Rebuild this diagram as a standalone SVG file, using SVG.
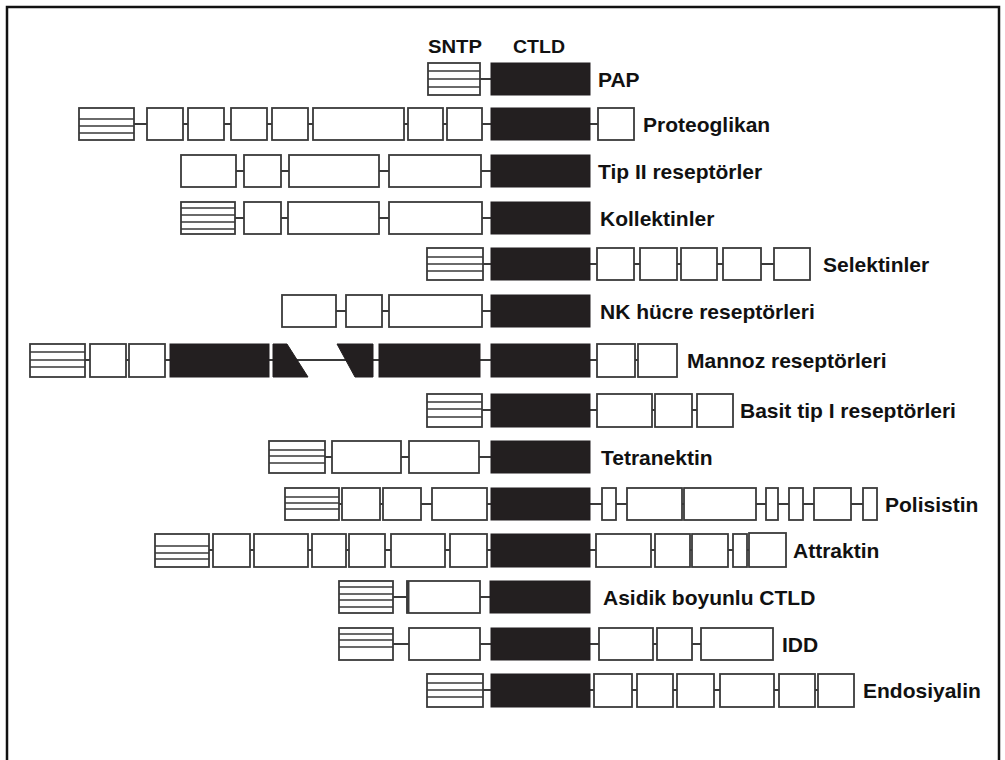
<svg xmlns="http://www.w3.org/2000/svg" width="1005" height="760" viewBox="0 0 1005 760">
<style>
.b{fill:#fff;stroke:#3a3a3a;stroke-width:1.8}
.k{fill:#231f20;stroke:#231f20;stroke-width:1}
.s{stroke:#3a3a3a;stroke-width:1.6;fill:none}
.c{stroke:#3a3a3a;stroke-width:1.8;fill:none}
.t{font-family:"Liberation Sans",Arial,sans-serif;font-weight:bold;font-size:21px;fill:#111}
.h{font-family:"Liberation Sans",Arial,sans-serif;font-weight:bold;font-size:19px;fill:#111}
</style>
<rect x="0" y="0" width="1005" height="760" fill="#fff"/>
<path d="M7 770 V7 H999 V770" fill="none" stroke="#111" stroke-width="2.5"/>
<g id="header">
<text class="h" x="428" y="53" textLength="54" lengthAdjust="spacingAndGlyphs">SNTP</text>
<text class="h" x="513" y="53" textLength="52" lengthAdjust="spacingAndGlyphs">CTLD</text>
</g>
<g id="connectors">
<line class="c" x1="454" y1="79" x2="491" y2="79"/>
<line class="c" x1="106" y1="124" x2="616" y2="124"/>
<line class="c" x1="208" y1="171" x2="491" y2="171"/>
<line class="c" x1="208" y1="218" x2="491" y2="218"/>
<line class="c" x1="455" y1="264" x2="792" y2="264"/>
<line class="c" x1="309" y1="311" x2="491" y2="311"/>
<line class="c" x1="58" y1="360" x2="657" y2="360"/>
<line class="c" x1="455" y1="410" x2="715" y2="410"/>
<line class="c" x1="297" y1="457" x2="491" y2="457"/>
<line class="c" x1="312" y1="504" x2="870" y2="504"/>
<line class="c" x1="182" y1="550" x2="768" y2="550"/>
<line class="c" x1="366" y1="597" x2="491" y2="597"/>
<line class="c" x1="366" y1="644" x2="737" y2="644"/>
<line class="c" x1="455" y1="690" x2="836" y2="690"/>
</g>
<g id="pap">
<rect class="b" x="428" y="63" width="52" height="32"/>
<path class="s" d="M428 71H480M428 79H480M428 87H480"/>
<rect class="k" x="491" y="63" width="99" height="32"/>
<text class="t" x="598" y="87">PAP</text>
</g>
<g id="proteoglikan">
<rect class="b" x="79" y="108" width="55" height="32"/>
<path class="s" d="M79 119H134M79 126H134M79 133H134"/>
<rect class="b" x="147" y="108" width="36" height="32"/>
<rect class="b" x="188" y="108" width="36" height="32"/>
<rect class="b" x="231" y="108" width="36" height="32"/>
<rect class="b" x="272" y="108" width="36" height="32"/>
<rect class="b" x="313" y="108" width="91" height="32"/>
<rect class="b" x="408" y="108" width="35" height="32"/>
<rect class="b" x="447" y="108" width="35" height="32"/>
<rect class="k" x="491" y="108" width="99" height="32"/>
<rect class="b" x="598" y="108" width="36" height="32"/>
<text class="t" x="643" y="132">Proteoglikan</text>
</g>
<g id="tip2">
<rect class="b" x="181" y="155" width="55" height="32"/>
<rect class="b" x="244" y="155" width="37" height="32"/>
<rect class="b" x="289" y="155" width="90" height="32"/>
<rect class="b" x="389" y="155" width="92" height="32"/>
<rect class="k" x="491" y="155" width="99" height="32"/>
<text class="t" x="598" y="179">Tip II reseptörler</text>
</g>
<g id="kollektinler">
<rect class="b" x="181" y="202" width="54" height="32"/>
<path class="s" d="M181 208H235M181 215H235M181 222H235M181 229H235"/>
<rect class="b" x="244" y="202" width="37" height="32"/>
<rect class="b" x="288" y="202" width="91" height="32"/>
<rect class="b" x="389" y="202" width="93" height="32"/>
<rect class="k" x="491" y="202" width="99" height="32"/>
<text class="t" x="600" y="226">Kollektinler</text>
</g>
<g id="selektinler">
<rect class="b" x="427" y="248" width="56" height="32"/>
<path class="s" d="M427 257H483M427 264H483M427 271H483"/>
<rect class="k" x="491" y="248" width="99" height="32"/>
<rect class="b" x="597" y="248" width="37" height="32"/>
<rect class="b" x="640" y="248" width="37" height="32"/>
<rect class="b" x="681" y="248" width="36" height="32"/>
<rect class="b" x="723" y="248" width="38" height="32"/>
<rect class="b" x="774" y="248" width="36" height="32"/>
<text class="t" x="823" y="272">Selektinler</text>
</g>
<g id="nk">
<rect class="b" x="282" y="295" width="54" height="32"/>
<rect class="b" x="346" y="295" width="36" height="32"/>
<rect class="b" x="389" y="295" width="93" height="32"/>
<rect class="k" x="491" y="295" width="99" height="32"/>
<text class="t" x="600" y="319">NK hücre reseptörleri</text>
</g>
<g id="mannoz">
<rect class="b" x="30" y="344" width="55" height="33"/>
<path class="s" d="M30 352H85M30 360H85M30 367H85"/>
<rect class="b" x="90" y="344" width="36" height="33"/>
<rect class="b" x="129" y="344" width="36" height="33"/>
<rect class="k" x="170" y="344" width="99" height="33"/>
<polygon class="k" points="273,344 287,344 308,377 273,377"/>
<polygon class="k" points="337,344 373,344 373,377 355,377"/>
<rect class="k" x="379" y="344" width="101" height="33"/>
<rect class="k" x="491" y="344" width="99" height="33"/>
<rect class="b" x="597" y="344" width="38" height="33"/>
<rect class="b" x="638" y="344" width="39" height="33"/>
<text class="t" x="687" y="368">Mannoz reseptörleri</text>
</g>
<g id="basit">
<rect class="b" x="427" y="394" width="55" height="33"/>
<path class="s" d="M427 402H482M427 409H482M427 417H482"/>
<rect class="k" x="491" y="394" width="99" height="33"/>
<rect class="b" x="597" y="394" width="55" height="33"/>
<rect class="b" x="655" y="394" width="37" height="33"/>
<rect class="b" x="697" y="394" width="36" height="33"/>
<text class="t" x="740" y="418">Basit tip I reseptörleri</text>
</g>
<g id="tetranektin">
<rect class="b" x="269" y="441" width="56" height="32"/>
<path class="s" d="M269 450H325M269 456H325M269 463H325"/>
<rect class="b" x="332" y="441" width="69" height="32"/>
<rect class="b" x="409" y="441" width="70" height="32"/>
<rect class="k" x="491" y="441" width="99" height="32"/>
<text class="t" x="601" y="465">Tetranektin</text>
</g>
<g id="polisistin">
<rect class="b" x="285" y="488" width="54" height="32"/>
<path class="s" d="M285 497H339M285 503H339M285 509H339"/>
<rect class="b" x="342" y="488" width="38" height="32"/>
<rect class="b" x="383" y="488" width="38" height="32"/>
<rect class="b" x="432" y="488" width="55" height="32"/>
<rect class="k" x="491" y="488" width="99" height="32"/>
<rect class="b" x="602" y="488" width="14" height="32"/>
<rect class="b" x="627" y="488" width="55" height="32"/>
<rect class="b" x="684" y="488" width="72" height="32"/>
<rect class="b" x="766" y="488" width="12" height="32"/>
<rect class="b" x="789" y="488" width="14" height="32"/>
<rect class="b" x="814" y="488" width="37" height="32"/>
<rect class="b" x="863" y="488" width="14" height="32"/>
<text class="t" x="885" y="512">Polisistin</text>
</g>
<g id="attraktin">
<rect class="b" x="155" y="534" width="54" height="33"/>
<path class="s" d="M155 546H209M155 553H209M155 559H209"/>
<rect class="b" x="213" y="534" width="37" height="33"/>
<rect class="b" x="254" y="534" width="54" height="33"/>
<rect class="b" x="312" y="534" width="34" height="33"/>
<rect class="b" x="349" y="534" width="36" height="33"/>
<rect class="b" x="391" y="534" width="54" height="33"/>
<rect class="b" x="450" y="534" width="37" height="33"/>
<rect class="k" x="491" y="534" width="99" height="33"/>
<rect class="b" x="596" y="534" width="55" height="33"/>
<rect class="b" x="655" y="534" width="35" height="33"/>
<rect class="b" x="692" y="534" width="36" height="33"/>
<rect class="b" x="733" y="534" width="14" height="33"/>
<rect class="b" x="749" y="533" width="37" height="34"/>
<text class="t" x="793" y="558">Attraktin</text>
</g>
<g id="asidik">
<rect class="b" x="339" y="581" width="54" height="32"/>
<path class="s" d="M339 587H393M339 594H393M339 600H393M339 607H393"/>
<rect class="b" x="407" y="581" width="73" height="32"/>
<line x1="408" y1="581" x2="408" y2="613" stroke="#3a3a3a" stroke-width="3"/>
<rect class="k" x="490" y="581" width="100" height="32"/>
<text class="t" x="603" y="605">Asidik boyunlu CTLD</text>
</g>
<g id="idd">
<rect class="b" x="339" y="628" width="54" height="32"/>
<path class="s" d="M339 634H393M339 640H393M339 647H393"/>
<rect class="b" x="409" y="628" width="71" height="32"/>
<rect class="k" x="491" y="628" width="99" height="32"/>
<rect class="b" x="599" y="628" width="54" height="32"/>
<rect class="b" x="657" y="628" width="35" height="32"/>
<rect class="b" x="701" y="628" width="72" height="32"/>
<text class="t" x="782" y="652">IDD</text>
</g>
<g id="endosiyalin">
<rect class="b" x="427" y="674" width="56" height="33"/>
<path class="s" d="M427 683H483M427 690H483M427 697H483"/>
<rect class="k" x="491" y="674" width="99" height="33"/>
<rect class="b" x="594" y="674" width="38" height="33"/>
<rect class="b" x="637" y="674" width="36" height="33"/>
<rect class="b" x="677" y="674" width="37" height="33"/>
<rect class="b" x="720" y="674" width="54" height="33"/>
<rect class="b" x="779" y="674" width="36" height="33"/>
<rect class="b" x="818" y="674" width="36" height="33"/>
<text class="t" x="863" y="698">Endosiyalin</text>
</g>
</svg>
